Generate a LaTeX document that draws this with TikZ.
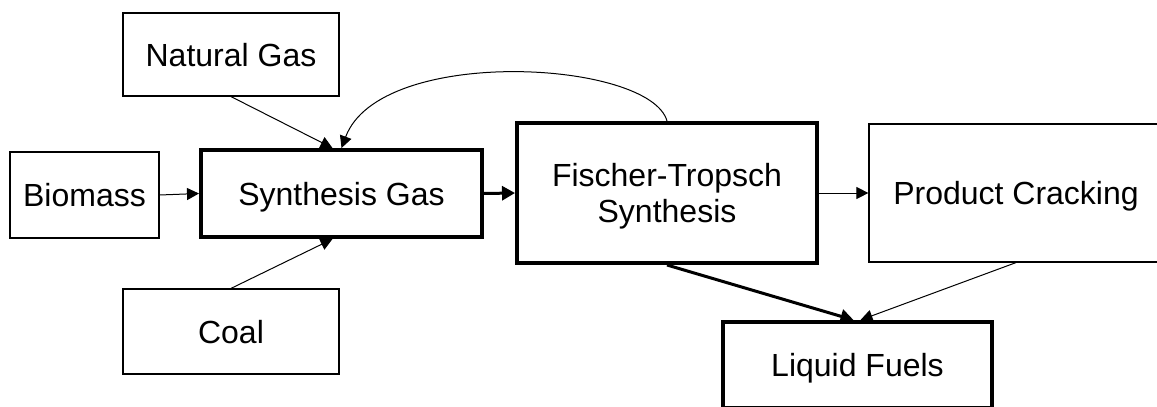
\documentclass[tikz,border=0pt]{standalone}
\usepackage{fontspec}
\setmainfont{Liberation Sans}
\usetikzlibrary{arrows.meta}
\begin{document}
\begin{tikzpicture}[x=0.5pt,y=-0.5pt,
  box/.style={draw, line width=0.6pt, inner sep=0pt, align=center, text depth=0pt, font=\fontsize{16}{18}\selectfont},
  thickbox/.style={box, line width=2pt},
  arr/.style={-{Triangle[length=6pt,width=6pt]}, line width=0.5pt},
  thickarr/.style={-{Triangle[length=6.5pt,width=7pt]}, line width=1.5pt}]
\useasboundingbox (0,0) rectangle (1157,407);
\node[box, minimum width=108pt, minimum height=41.5pt] (ng) at (231,54.5) {Natural Gas};
\node[box, minimum width=74.5pt, minimum height=43pt] (bio) at (84.5,195) {Biomass};
\node[thickbox, minimum width=140.5pt, minimum height=43.5pt] (syn) at (341.5,193.5) {Synthesis Gas};
\node[box, minimum width=108pt, minimum height=42.5pt] (coal) at (231,331.5) {Coal};
\node[thickbox, minimum width=150pt, minimum height=70pt] (ft) at (667,193) {Fischer-Tropsch\\Synthesis};
\node[box, minimum width=147pt, minimum height=69pt] (pc) at (1016,193) {Product Cracking};
\node[thickbox, minimum width=134.5pt, minimum height=43pt] (lf) at (857.5,365) {Liquid Fuels};
\draw[arr] (ng.south) -- ([xshift=-4.5pt]syn.north);
\draw[arr] (coal.north) -- ([xshift=-4.5pt]syn.south);
\draw[arr] (bio.east) -- (syn.west);
\draw[thickarr] (syn.east) -- (ft.west);
\draw[arr] (ft.east) -- (pc.west);
\draw[arr] (ft.north) .. controls (650,60) and (380,45) .. (syn.north);
\draw[thickarr] (ft.south) -- ([xshift=-2pt]lf.north);
\draw[arr] (pc.south) -- ([xshift=1.5pt]lf.north);
\end{tikzpicture}
\end{document}
